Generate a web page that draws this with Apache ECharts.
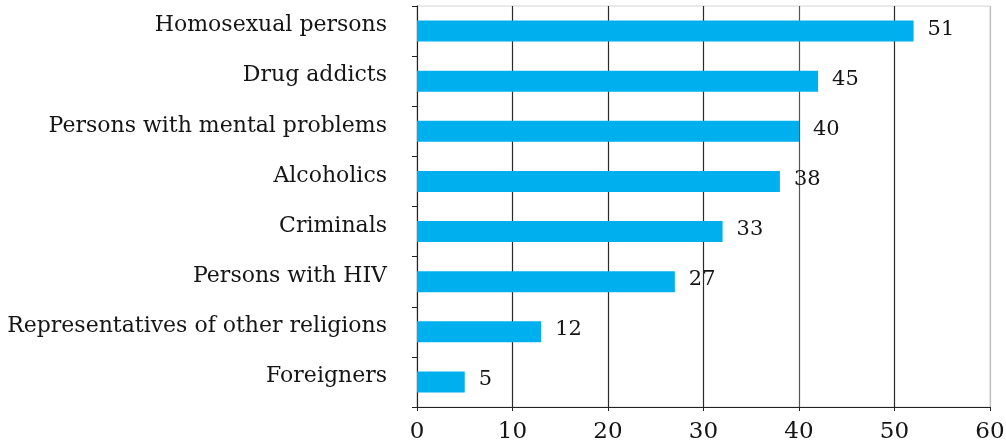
<!DOCTYPE html>
<html>
<head>
<meta charset="utf-8">
<title>chart</title>
<script src="https://cdn.jsdelivr.net/npm/echarts@6/dist/echarts.min.js"></script>
<style>
	html, body {
		margin: 0;
		padding: 0;
		background: #fff;
	}
	#myChart {
		width: 1006px;
		height: 443px;
	}
</style>
</head>
<body>
<div id="myChart"></div>
<script>
// categories, top to bottom
var categories = [
	'Homosexual persons',
	'Drug addicts',
	'Persons with mental problems',
	'Alcoholics',
	'Criminals',
	'Persons with HIV',
	'Representatives of other religions',
	'Foreigners'
];
// bar lengths as drawn in the picture
var barValues = [52, 42, 40, 38, 32, 27, 13, 5];
// numbers printed next to the bars
var labelValues = [51, 45, 40, 38, 33, 27, 12, 5];
// x axis ticks
var xMin = 0;
var xMax = 60;
var xStep = 10;

var serif = '"DejaVu Serif", "Liberation Serif", serif';
var textColor = '#151515';

var myChart = echarts.init(document.getElementById('myChart'));

var option = {
	animation: false,
	grid: {
		show: true,
		borderColor: '#d4d4d4',
		borderWidth: 1,
		top: 6,
		left: 417,
		right: 16,
		bottom: 36,
		containLabel: false,
		outerBoundsMode: 'none'
	},
	xAxis: {
		type: 'value',
		min: xMin,
		max: xMax,
		interval: xStep,
		axisLine: {
			show: true,
			lineStyle: { color: '#222', width: 1 }
		},
		axisTick: {
			show: true,
			length: 4,
			lineStyle: { color: '#222' }
		},
		axisLabel: {
			color: textColor,
			fontFamily: serif,
			fontSize: 23,
			margin: 14
		},
		splitLine: {
			show: true,
			lineStyle: {
				// last one is the lighter right edge
				color: ['#2a2a2a', '#2a2a2a', '#2a2a2a', '#2a2a2a', '#555', '#2a2a2a', '#bdbdbd'],
				width: 1.2
			}
		}
	},
	yAxis: {
		type: 'category',
		inverse: true,
		data: categories,
		axisLine: {
			show: true,
			lineStyle: { color: '#222', width: 1 }
		},
		axisTick: {
			show: true,
			length: 5,
			lineStyle: { color: '#222' }
		},
		axisLabel: {
			color: textColor,
			fontFamily: serif,
			fontSize: 22,
			margin: 30,
			verticalAlign: 'bottom',
			lineHeight: 11
		},
		splitLine: { show: false }
	},
	series: [
		{
			type: 'bar',
			data: barValues,
			barWidth: 21,
			itemStyle: {
				color: '#00b0ee'
			},
			label: {
				show: true,
				position: 'right',
				distance: 14,
				offset: [0, -2],
				color: textColor,
				fontFamily: serif,
				fontSize: 21,
				formatter: function (p) {
					return labelValues[p.dataIndex];
				}
			}
		}
	]
};

myChart.setOption(option);
</script>
</body>
</html>
